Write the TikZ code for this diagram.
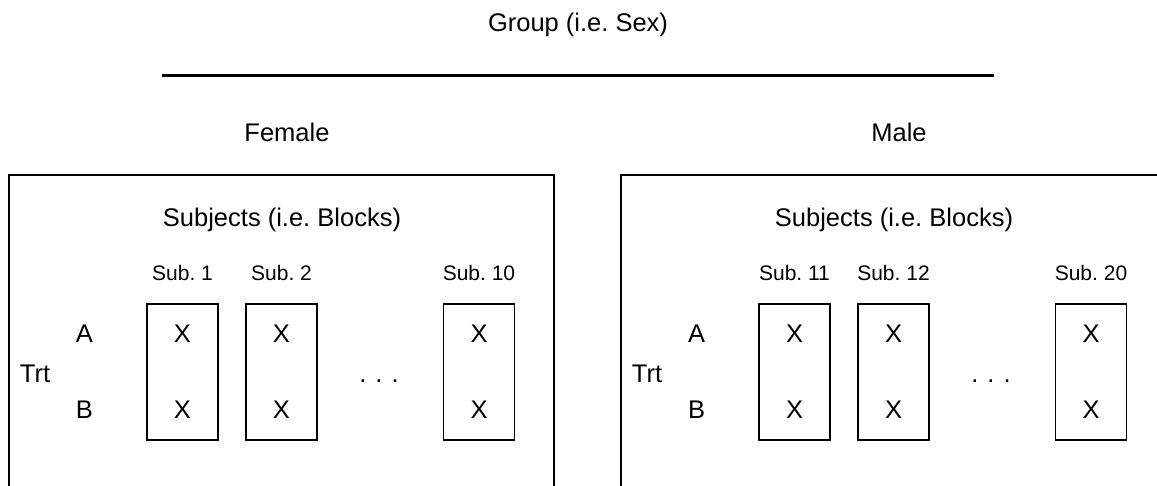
\documentclass[tikz,border=0pt]{standalone}
\usepackage{fontspec}
\setmainfont{Liberation Sans}
\frenchspacing
\begin{document}
\begin{tikzpicture}[x=1pt,y=-1pt,
  lbl/.style={anchor=base,inner sep=0pt,font=\fontsize{25.5}{30}\selectfont},
  sublbl/.style={anchor=base,inner sep=0pt,font=\fontsize{21}{25}\selectfont},
  panel/.style={draw,line width=1.2pt},
  subjbox/.style={draw,line width=1.3pt,minimum width=71pt,minimum height=136pt,inner sep=0pt},
  bar/.style={line width=3pt}]
\useasboundingbox (0,0) rectangle (1157,486);
\clip (0,0) rectangle (1157,486);

% grouping factor and its rule
\node[lbl] (title) at (578,32) {Group (i.e. Sex)};
\coordinate (barL) at (162,76);
\coordinate (barR) at (994,76);
\draw[bar] (barL) -- (barR);

% one panel per group
\foreach \dx/\s/\grp/\na/\nb/\nc in {0/F/Female/1/2/10, 612/M/Male/11/12/20}{
  \node[lbl] (\s-grp) at (287+\dx,142) {\grp};
  \draw[panel] (9+\dx,175) rectangle (554+\dx,500);
  \node[lbl] (\s-blocks) at (282+\dx,227) {Subjects (i.e. Blocks)};
  % subject columns
  \node[sublbl] (\s-l1) at (182.5+\dx,281) {Sub. \na};
  \node[sublbl] (\s-l2) at (281.5+\dx,281) {Sub. \nb};
  \node[sublbl] (\s-l3) at (479+\dx,281) {Sub. \nc};
  \node[subjbox] (\s-b1) at (182.5+\dx,372) {};
  \node[subjbox] (\s-b2) at (281.5+\dx,372) {};
  \node[subjbox] (\s-b3) at (479+\dx,372) {};
  \foreach \cx/\k in {182.5/1,281.5/2,479/3}{
    \node[lbl] (\s-xa\k) at (\cx+\dx,343) {X};
    \node[lbl] (\s-xb\k) at (\cx+\dx,418) {X};
  }
  \node[lbl] (\s-dots) at (379+\dx,382) {.\hspace{9pt}.\hspace{9pt}.};
  % treatment levels
  \node[lbl] (\s-trt) at (35+\dx,382) {Trt};
  \node[lbl] (\s-A) at (84.5+\dx,343) {A};
  \node[lbl] (\s-B) at (84.5+\dx,418) {B};
}
\end{tikzpicture}
\end{document}
